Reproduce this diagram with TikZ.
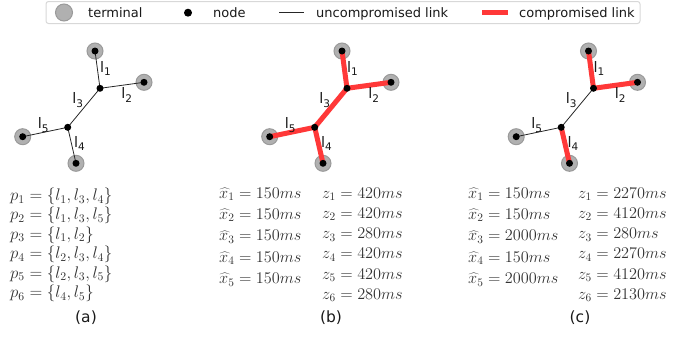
\RequirePackage{fix-cm}
\documentclass[tikz,border=0pt]{standalone}
\usepackage{fontspec}
\newfontfamily\dejavu{DejaVu Sans}
\definecolor{termgray}{HTML}{B0B0B0}
\definecolor{termedge}{HTML}{9A9A9A}
\definecolor{linkred}{HTML}{FF3838}
\definecolor{mathgray}{HTML}{333333}
\definecolor{legedge}{HTML}{D8D8D8}
\newcommand\lsub[1]{l\raisebox{-3.5pt}{\fontsize{10.5}{10.5}\selectfont #1}}
\newcommand\xh{{\widehat{x\kern2.5pt}\kern-2.5pt}}
\tikzset{
  term/.style={circle, fill=termgray, draw=termedge, line width=1pt, minimum size=16pt, inner sep=0pt},
  dotnode/.style={circle, fill=black, minimum size=7pt, inner sep=0pt},
  ulink/.style={draw=black!85, line width=0.8pt},
  clink/.style={draw=linkred, line width=5pt},
  lab/.style={font=\dejavu\fontsize{14.5}{14.5}\selectfont, inner sep=0pt, text=black!90},
  legtext/.style={font=\dejavu\fontsize{13}{13}\selectfont, anchor=base west, inner sep=0pt, text=black!90},
  sublab/.style={font=\dejavu\fontsize{15.5}{15.5}\selectfont, anchor=base, inner sep=0pt, text=black!90},
  mathp/.style={anchor=base west, inner sep=0pt, text height=10pt, text depth=3pt, font=\fontsize{16.8}{16}\selectfont, text=mathgray},
  mathx/.style={anchor=base west, inner sep=0pt, text height=10pt, text depth=3pt, font=\fontsize{16.3}{16}\selectfont, text=mathgray},
}
% #1 prefix, #2 xshift, #3..#7 styles of l1..l5
\newcommand\drawnet[7]{%
  \begin{scope}[shift={(#2,0)}]
    \node[term] (#1t1) at (95,51) {};
    \node[term] (#1t2) at (144,82.3) {};
    \node[term] (#1t4) at (76,163.3) {};
    \node[term] (#1t5) at (22.7,136.7) {};
    \coordinate (#1n1) at (100,88.3);
    \coordinate (#1n2) at (67.7,127.3);
    \draw[#3] (#1t1.center) -- (#1n1);
    \draw[#4] (#1t2.center) -- (#1n1);
    \draw[#5] (#1n1) -- (#1n2);
    \draw[#6] (#1t4.center) -- (#1n2);
    \draw[#7] (#1t5.center) -- (#1n2);
    \node[dotnode] (#1d1) at (#1t1) {};
    \node[dotnode] (#1d2) at (#1t2) {};
    \node[dotnode] (#1d4) at (#1t4) {};
    \node[dotnode] (#1d5) at (#1t5) {};
    \node[dotnode] (#1m1) at (#1n1) {};
    \node[dotnode] (#1m2) at (#1n2) {};
    \node[lab] (#1l1) at (105.5,68.3) {\lsub{1}};
    \node[lab] (#1l2) at (126.7,95) {\lsub{2}};
    \node[lab] (#1l3) at (77.7,100) {\lsub{3}};
    \node[lab] (#1l4) at (79.5,143.3) {\lsub{4}};
    \node[lab] (#1l5) at (43.3,125) {\lsub{5}};
  \end{scope}}
\begin{document}
\begin{tikzpicture}[x=1pt,y=-1pt]
\useasboundingbox (0,0) rectangle (694,341);
% legend
\draw[legedge, line width=1pt, rounded corners=2.5pt, fill=white] (46,1.5) rectangle (640,23.5);
\node[term, minimum size=17pt] (legterm) at (64,12.5) {};
\node[legtext] (legterml) at (88,17.3) {terminal};
\node[dotnode, minimum size=8pt] (legnode) at (188,12.7) {};
\node[legtext] (legnodel) at (213,17.3) {node};
\coordinate (lu1) at (279,12.5);
\coordinate (lu2) at (304,12.5);
\draw[ulink] (lu1) -- (lu2);
\node[legtext] (legul) at (316,17.3) {uncompromised link};
\coordinate (lc1) at (482,12.5);
\coordinate (lc2) at (508,12.5);
\draw[clink, line width=4.5pt] (lc1) -- (lc2);
\node[legtext] (legcl) at (519,17.3) {compromised link};
% networks
\drawnet{a}{0}{ulink}{ulink}{ulink}{ulink}{ulink}
\drawnet{b}{247}{clink}{clink}{clink}{clink}{clink}
\drawnet{c}{493.5}{clink}{clink}{ulink}{clink}{ulink}
% paths (a)
\node[mathp] (p1) at (10,200.5) {$p_1=\{l_1,l_3,l_4\}$};
\node[mathp] (p2) at (10,219.9) {$p_2=\{l_1,l_3,l_5\}$};
\node[mathp] (p3) at (10,239.3) {$p_3=\{l_1,l_2\}$};
\node[mathp] (p4) at (10,258.7) {$p_4=\{l_2,l_3,l_4\}$};
\node[mathp] (p5) at (10,278.1) {$p_5=\{l_2,l_3,l_5\}$};
\node[mathp] (p6) at (10,297.5) {$p_6=\{l_4,l_5\}$};
% (b)
\node[mathx] (bx1) at (219,198) {$\xh_1=150ms$};
\node[mathx] (bx2) at (219,219.4) {$\xh_2=150ms$};
\node[mathx] (bx3) at (219,240.8) {$\xh_3=150ms$};
\node[mathx] (bx4) at (219,262.2) {$\xh_4=150ms$};
\node[mathx] (bx5) at (219,283.6) {$\xh_5=150ms$};
\node[mathx] (bz1) at (322,198) {$z_1=420ms$};
\node[mathx] (bz2) at (322,218.3) {$z_2=420ms$};
\node[mathx] (bz3) at (322,238.6) {$z_3=280ms$};
\node[mathx] (bz4) at (322,258.9) {$z_4=420ms$};
\node[mathx] (bz5) at (322,279.2) {$z_5=420ms$};
\node[mathx] (bz6) at (322,299.5) {$z_6=280ms$};
% (c)
\node[mathx] (cx1) at (468,198) {$\xh_1=150ms$};
\node[mathx] (cx2) at (468,219.4) {$\xh_2=150ms$};
\node[mathx] (cx3) at (468,240.8) {$\xh_3=2000ms$};
\node[mathx] (cx4) at (468,262.2) {$\xh_4=150ms$};
\node[mathx] (cx5) at (468,283.6) {$\xh_5=2000ms$};
\node[mathx] (cz1) at (578,198) {$z_1=2270ms$};
\node[mathx] (cz2) at (578,218.3) {$z_2=4120ms$};
\node[mathx] (cz3) at (578,238.6) {$z_3=280ms$};
\node[mathx] (cz4) at (578,258.9) {$z_4=2270ms$};
\node[mathx] (cz5) at (578,279.2) {$z_5=4120ms$};
\node[mathx] (cz6) at (578,299.5) {$z_6=2130ms$};
% sub labels
\node[sublab] (la) at (86,322) {(a)};
\node[sublab] (lb) at (331,322) {(b)};
\node[sublab] (lc) at (580,322) {(c)};
\end{tikzpicture}
\end{document}
